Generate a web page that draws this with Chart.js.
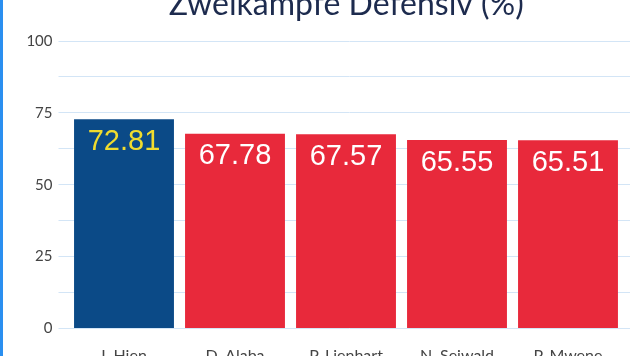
<!DOCTYPE html>
<html>
<head>
<meta charset="utf-8">
<script src="https://cdn.jsdelivr.net/npm/chart.js@4"></script>
<style>
  html, body { margin: 0; padding: 0; background: #ffffff; overflow: hidden; width: 630px; height: 356px; }
  #wrap { position: absolute; left: 0; top: -14px; width: 630px; height: 400px; }
  #edge { position: absolute; left: 0; top: 0; width: 3px; height: 356px; background: #2a8ff0; }
</style>
</head>
<body>
<div id="wrap"><canvas id="c" width="630" height="400"></canvas></div>
<div id="edge"></div>
<script>
const chartTitle = 'Zweikämpfe Defensiv (%)';
const categories = ['I. Hien', 'D. Alaba', 'P. Lienhart', 'N. Seiwald', 'P. Mwene'];
const values = [72.81, 67.78, 67.57, 65.55, 65.51];
const barColors = ['#0b4a87', '#e8293b', '#e8293b', '#e8293b', '#e8293b'];
const valueLabelColors = ['#f0dc2e', '#ffffff', '#ffffff', '#ffffff', '#ffffff'];
const yTickLabels = [0, 25, 50, 75, 100];

const titlePlugin = {
  id: 'customTitle',
  afterDraw(chart) {
    const ctx = chart.ctx;
    const a = chart.chartArea;
    ctx.save();
    ctx.font = '32px Lato';
    ctx.fillStyle = '#1d2b4e';
    ctx.textAlign = 'center';
    ctx.textBaseline = 'alphabetic';
    ctx.fillText(chartTitle, (a.left + a.right) / 2 - 3, 29);
    ctx.restore();
  }
};

const valueLabelPlugin = {
  id: 'valueLabels',
  afterDatasetsDraw(chart) {
    const ctx = chart.ctx;
    const meta = chart.getDatasetMeta(0);
    ctx.save();
    ctx.font = '29px "Liberation Sans"';
    ctx.textAlign = 'center';
    ctx.textBaseline = 'alphabetic';
    meta.data.forEach((bar, i) => {
      ctx.fillStyle = valueLabelColors[i];
      ctx.fillText(values[i].toFixed(2), bar.x, bar.y + 30.5);
    });
    ctx.restore();
  }
};

new Chart(document.getElementById('c'), {
  type: 'bar',
  data: {
    datasets: [{
      data: values.map((v, i) => ({ x: i, y: v })),
      backgroundColor: barColors,
      borderWidth: 0,
      barPercentage: 0.9,
      categoryPercentage: 1.0
    }]
  },
  options: {
    responsive: false,
    animation: false,
    layout: { padding: { top: 55, left: 0, right: 0, bottom: 0 } },
    plugins: { legend: { display: false }, title: { display: false }, tooltip: { enabled: false } },
    scales: {
      x: {
        type: 'linear',
        offset: false,
        min: -0.5,
        max: -0.5 + (630 - 68.5) / 111,
        afterBuildTicks(scale) { scale.ticks = categories.map((_, i) => ({ value: i })); },
        afterFit(scale) { scale.height = 57.5; },
        grid: { display: false, drawTicks: false, offset: false },
        border: { display: false },
        ticks: {
          padding: 18,
          autoSkip: false,
          maxRotation: 0,
          color: '#444444',
          font: { family: 'Lato', size: 16 },
          callback: (v) => categories[v] !== undefined ? categories[v] : ''
        }
      },
      y: {
        min: 0,
        max: 100,
        afterFit(scale) { scale.width = 68.5; },
        afterBuildTicks(scale) {
          const t = [];
          for (let k = 0; k < yTickLabels.length; k++) {
            t.push({ value: yTickLabels[k] });
            if (k < yTickLabels.length - 1) t.push({ value: (yTickLabels[k] + yTickLabels[k + 1]) / 2 });
          }
          scale.ticks = t;
        },
        grid: { color: '#d3e5f6', lineWidth: 1, tickLength: 10 },
        border: { display: false },
        ticks: {
          padding: 6,
          color: '#444444',
          font: { family: 'Lato', size: 15 },
          callback: (v) => yTickLabels.includes(v) ? String(v) : ''
        }
      }
    }
  },
  plugins: [titlePlugin, valueLabelPlugin]
});
</script>
</body>
</html>
